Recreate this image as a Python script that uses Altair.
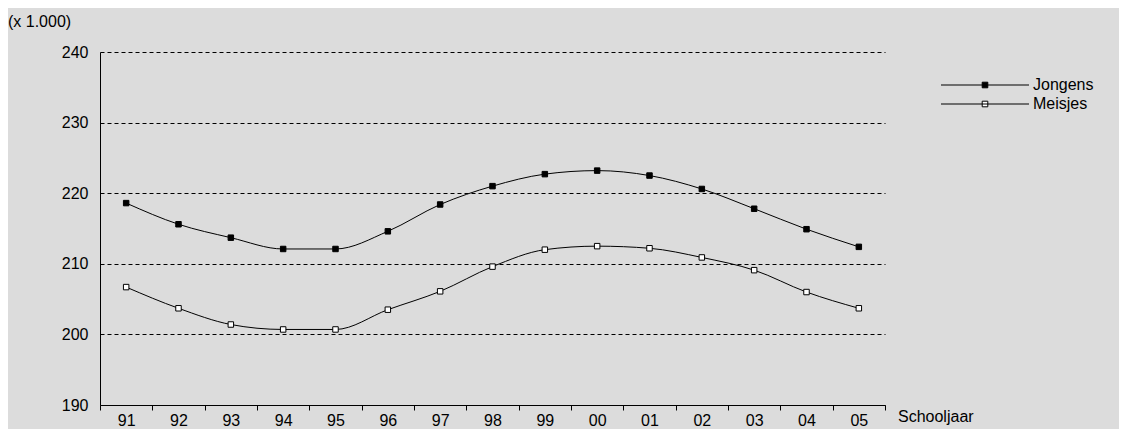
import altair as alt
import pandas as pd

years = ["91", "92", "93", "94", "95", "96", "97", "98", "99", "00", "01", "02", "03", "04", "05"]
jongens = [218.6, 215.6, 213.7, 212.1, 212.1, 214.6, 218.4, 221.0, 222.7, 223.2, 222.5, 220.6, 217.8, 214.9, 212.4]
meisjes = [206.7, 203.7, 201.4, 200.7, 200.7, 203.5, 206.1, 209.6, 212.0, 212.5, 212.2, 210.9, 209.1, 206.0, 203.7]

df = pd.DataFrame(
    [{"jaar": y, "v": v, "serie": "Jongens"} for y, v in zip(years, jongens)]
    + [{"jaar": y, "v": v, "serie": "Meisjes"} for y, v in zip(years, meisjes)]
)

x = alt.X("jaar:O", sort=years, title=None,
          scale=alt.Scale(paddingInner=0, paddingOuter=0),
          axis=alt.Axis(labelAngle=0, tickBand="extent", tickSize=5, labelFontSize=16,
                        labelPadding=2, domainColor="black", tickColor="black",
                        labelColor="black", labelFont="Liberation Sans"))
y = alt.Y("v:Q", title=None,
          scale=alt.Scale(domain=[190, 240]),
          axis=alt.Axis(values=[190, 200, 210, 220, 230, 240], tickSize=0, labelPadding=12,
                        labelFontSize=16, gridDash=[4, 3], gridColor="black", grid=True,
                        domainColor="black", labelColor="black", labelFont="Liberation Sans"))

base = alt.Chart(df).encode(x=x, y=y)

lines = base.mark_line(color="black", strokeWidth=1, interpolate="monotone").encode(
    detail="serie:N")
points = base.mark_point(shape="square", size=30, stroke="black", strokeWidth=1, opacity=1).encode(
    fill=alt.Fill("serie:N", scale=alt.Scale(domain=["Jongens", "Meisjes"], range=["black", "white"]),
                  legend=alt.Legend(title=None, orient="none", legendX=877, legendY=25,
                                    symbolType="M-11,0H11M-0.7,-0.7H0.7V0.7H-0.7Z", symbolSize=64,
                                    symbolStrokeColor="black", symbolStrokeWidth=1,
                                    labelFontSize=16, labelFont="Liberation Sans",
                                    labelColor="black", labelOffset=40, rowPadding=3))
)

t1 = alt.Chart(pd.DataFrame({"t": ["(x 1.000)"]})).mark_text(
    align="left", baseline="middle", fontSize=16, font="Liberation Sans", color="black"
).encode(text="t:N", x=alt.value(-92), y=alt.value(-30))
t2 = alt.Chart(pd.DataFrame({"t": ["Schooljaar"]})).mark_text(
    align="left", baseline="middle", fontSize=16, font="Liberation Sans", color="black"
).encode(text="t:N", x=alt.value(798), y=alt.value(365))

chart = alt.layer(lines, points, t1, t2).properties(
    width=785, height=353, background="#dcdcdc",
    autosize=alt.AutoSizeParams(type="none"),
    padding={"left": 92, "top": 44, "right": 234, "bottom": 24}
).configure_view(stroke=None)

chart.save("out.html", embed_options={"renderer": "svg", "actions": False})
